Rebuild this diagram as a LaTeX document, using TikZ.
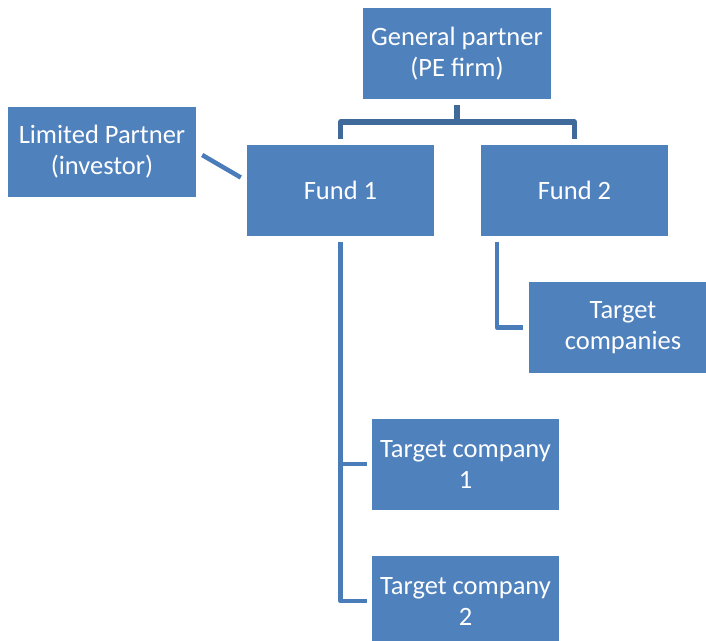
\documentclass[tikz,border=0pt]{standalone}
\usepackage{fontspec}
\setmainfont{Carlito}
\usetikzlibrary{calc}
\definecolor{boxblue}{RGB}{79,129,189}
\definecolor{linkdark}{RGB}{64,106,154}
\definecolor{linkblue}{RGB}{74,124,185}
\tikzset{
  orgbox/.style={fill=boxblue, draw=none, text=white, minimum width=188pt, minimum height=91pt,
    align=center, inner sep=0pt, font=\fontsize{26.5}{31}\selectfont},
  link/.style={draw=linkblue, line width=4.5pt, line join=round},
  toplink/.style={draw=linkdark, line width=5.5pt, line join=round}
}
\begin{document}
\begin{tikzpicture}[x=1pt,y=-1pt]
\useasboundingbox (0,0) rectangle (706,640);
\clip (0,0) rectangle (706,640);
\node[orgbox] (gp) at (457,53.5) {General partner\\(PE firm)};
\node[orgbox, minimum height=90pt] (lp) at (102,152) {Limited Partner\\(investor)};
\node[orgbox, minimum width=187pt] (f1) at (340.5,190.5) {Fund 1};
\node[orgbox, minimum width=187pt] (f2) at (574.5,190.5) {Fund 2};
\node[orgbox] (tcs) at (623,327.5) {Target\\companies};
\node[orgbox, minimum width=187pt] (tc1) at (465.5,464) {Target company\\1};
\node[orgbox, minimum width=187pt] (tc2) at (465.5,601) {Target company\\2};
% GP to funds
\coordinate (bar) at ($(gp.south)+(0,23)$);
\draw[toplink] ($(gp.south)+(0,6)$) -- (bar);
\draw[toplink] (bar) -| ($(f1.north)+(0,-6)$);
\draw[toplink] (bar) -| ($(f2.north)+(0,-6)$);
% LP to Fund 1
\draw[link] ($(lp.east)+(6,3)$) -- ($(f1.west)+(-6,-13)$);
% Fund 2 to target companies
\coordinate (f2t) at ($(f2.south west)+(16,6)$);
\draw[link] (f2t) |- ($(tcs.west)+(-6,0)$);
% Fund 1 to target companies
\coordinate (f1t) at ($(f1.south)+(0,6)$);
\draw[link] (f1t) |- ($(tc2.west)+(-5,0)$);
\draw[link] (f1t) |- ($(tc1.west)+(-5,0)$);
\end{tikzpicture}
\end{document}
